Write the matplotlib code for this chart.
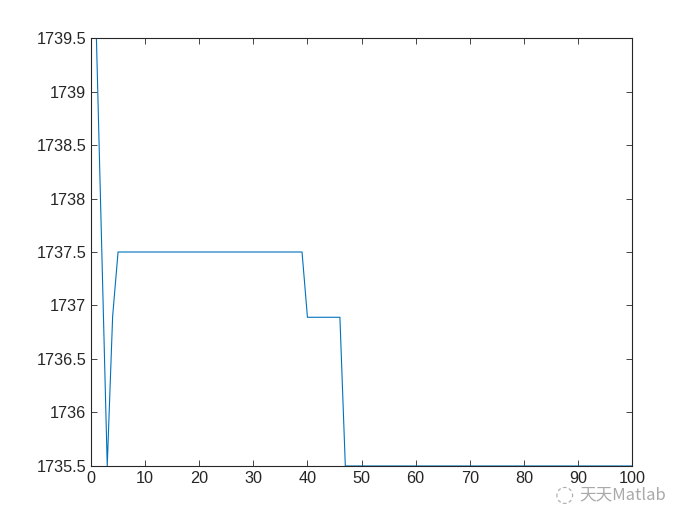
import matplotlib
matplotlib.use("Agg")
import matplotlib.pyplot as plt
from matplotlib.ticker import FuncFormatter
import numpy as np

# data: iteration vs best fitness
x_iter = list(range(1, 101))
y_start = [1739.5, 1737.5, 1735.5, 1736.9]
y_plateau1 = 1737.5   # iterations 5..39
y_plateau2 = 1736.89  # iterations 40..46
y_final = 1735.5      # iterations 47..100
y_vals = y_start + [y_plateau1] * 35 + [y_plateau2] * 7 + [y_final] * 54

x_ticks = [0, 10, 20, 30, 40, 50, 60, 70, 80, 90, 100]
y_ticks = [1735.5, 1736, 1736.5, 1737, 1737.5, 1738, 1738.5, 1739, 1739.5]

plt.rcParams['font.family'] = ['Liberation Sans', 'DejaVu Sans']

fig = plt.figure(figsize=(7, 5.25), dpi=100)
ax = fig.add_axes([0.13, 0.1124, 0.773, 0.8152])
ax.plot(x_iter, y_vals, color='#0072BD', linewidth=0.8)
ax.set_xlim(0, 100)
ax.set_ylim(1735.5, 1739.5)
ax.set_xticks(x_ticks)
ax.set_yticks(y_ticks)
ax.yaxis.set_major_formatter(FuncFormatter(lambda v, p: '%g' % v))
ax.tick_params(direction='in', length=4, width=0.6, colors='#262626',
               labelsize=11.7, top=True, right=True, labeltop=False, labelright=False)
for s in ax.spines.values():
    s.set_color('#262626')
    s.set_linewidth(0.8)

fig.text(0.828, 0.058, '天天Matlab', fontsize=12, color='#a0a0a0', alpha=0.9,
         family=['Noto Sans CJK SC', 'DejaVu Sans'], va='center', ha='left')
fig.text(0.792, 0.058, '◌', fontsize=16, color='#b0b0b0', va='center', ha='left',
         family=['DejaVu Sans'])

fig.savefig('out.png', dpi=100)
